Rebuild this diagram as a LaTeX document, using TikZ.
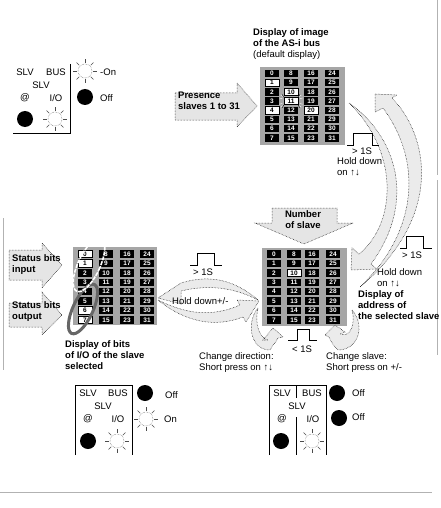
\documentclass[tikz,border=0pt]{standalone}
\usepackage{fontspec}
\setmainfont{Liberation Sans}
\makeatletter
\newcommand{\slavegrid}[8]{%
  % prefix, four column centres, first row y, row spacing, white cells
  \foreach \c/\xx in {0/#2,1/#3,2/#4,3/#5}{%
    \foreach \r in {0,...,7}{%
      \pgfmathtruncatemacro\n{\c*8+\r}%
      \edef\tmpcheck{\noexpand\in@{,\n,}{,#8,}}\tmpcheck
      \ifin@\tikzset{thiscell/.style={whitecell}}\else\tikzset{thiscell/.style={blackcell}}\fi
      \node[thiscell] (#1\n) at (\xx,{#6+\r*#7}) {\n};
    }%
  }%
}
\makeatother
\newcommand{\sunrays}[2]{%
  \foreach \a in {0,45,...,315}{\draw[ray] (#1)++(\a:#2+2)--++(\a:4);}%
}
\tikzset{
  whitecell/.style={draw=black,line width=.6pt,fill=white,text=black,minimum width=14pt,minimum height=7.4pt,inner sep=0pt,font=\fontsize{6.5}{7}\selectfont\bfseries},
  blackcell/.style={fill=black,text=white,minimum width=14pt,minimum height=7.4pt,inner sep=0pt,font=\fontsize{6.5}{7}\selectfont\bfseries},
  gridbg/.style={fill=black!35,draw=none},
  blockarrow/.style={fill=black!10,draw=black,densely dotted,line width=.5pt},
  swoosh/.style={fill=black!8,draw=black,densely dotted,line width=.5pt},
  pulse/.style={draw=black,line width=1pt},
  lbl/.style={inner sep=0pt,anchor=west,font=\fontsize{9.5}{11}\selectfont},
  ctr/.style={inner sep=0pt,anchor=center,font=\fontsize{9.5}{11}\selectfont},
  blbl/.style={inner sep=0pt,anchor=north west,align=left,font=\fontsize{9.5}{11}\selectfont\bfseries},
  ledoff/.style={circle,fill=black,minimum size=16pt,inner sep=0pt},
  ledon/.style={circle,draw=black!60,densely dotted,fill=white,line width=.5pt,minimum size=14pt,inner sep=0pt},
  ray/.style={draw=black!70,line width=.4pt},
  panel/.style={draw=black,line width=.8pt},
  frameline/.style={draw=black!30,line width=.8pt},
}
\begin{document}
\begin{tikzpicture}[x=1pt,y=-1pt]
\useasboundingbox (0,0) rectangle (440,508);
% page rules
\draw[frameline] (0,492)--(432,492);
\draw[frameline] (3,218)--(3,370);
\draw[frameline] (437,0)--(437,175);
\draw[frameline] (437,180)--(437,355);
% grids
\fill[gridbg] (260,67) rectangle (345,145);
\slavegrid{a}{272}{291}{311}{332}{73.5}{9.2}{1,4,10,11,20}
\fill[gridbg] (262,248) rectangle (347,326);
\slavegrid{b}{274}{294}{312}{333}{254}{9.4}{10}
\fill[gridbg] (73,247) rectangle (157,325);
\slavegrid{c}{85}{106}{127}{147}{254}{9.4}{0,1,6,7}
\foreach \a in {-150,-165,165,150,30,15,-15,-30}{\draw[white,line width=.4pt] (a11)++(\a:9)--++(\a:3);}
\foreach \p/\q in {a11.north west/-120,a11.north east/-60,a11.south west/120,a11.south east/60}{\draw[black,line width=.4pt] (\p)--++(\q:3);}
% block arrows
\draw[blockarrow] (175,93)--(237,93)--(237,83)--(257,106)--(237,127)--(237,120)--(175,120)--cycle;
\draw[blockarrow] (272,208)--(337,208)--(337,223)--(353,223)--(304,244)--(255,223)--(272,223)--cycle;
\draw[blockarrow] (9,250)--(42,250)--(42,243)--(62,265)--(42,288)--(42,280)--(9,280)--cycle;
\draw[blockarrow] (9,303)--(42,303)--(42,292)--(62,315)--(42,335)--(42,327)--(9,327)--cycle;
% large curved arrows
\draw[swoosh] (349,103) .. controls (395,135) and (418,200) .. (371,264) -- (377,269) -- (351,270) -- (352,248) -- (359,254) .. controls (398,222) and (398,150) .. (349,103) -- cycle;
\draw[swoosh] (375,94) -- (397,95) -- (392,98) .. controls (428,135) and (445,215) .. (360,287) .. controls (415,235) and (425,165) .. (383,108) -- (375,112) -- cycle;
% hold-down crescents
\draw[swoosh] (158,298) -- (181,283) .. controls (210,274) and (235,280) .. (258,300) .. controls (235,288) and (210,284) .. (181,291) -- (181,304) -- cycle;
\draw[swoosh] (158,300) .. controls (190,316) and (215,316) .. (240,305) -- (237,300) -- (259,301) -- (246,322) -- (243,317) .. controls (215,328) and (185,322) .. (158,300) -- cycle;
% small U-turn arrows
\draw[swoosh] (258,308) .. controls (246,322) and (250,350) .. (270,350) .. controls (272,346) and (276,342) .. (278,338) -- (283,337) -- (273,328) -- (263,340) -- (268,340) .. controls (260,338) and (254,325) .. (258,308) -- cycle;
\draw[swoosh] (352,310) .. controls (366,326) and (358,350) .. (338,350) .. controls (334,346) and (331,342) .. (329,337) -- (325,335) -- (335,325) -- (345,332) -- (340,334) .. controls (350,338) and (356,325) .. (352,310) -- cycle;
% selection ovals
\draw[draw=black!60,line width=3pt,rotate around={-25:(83,309)}] (83,309) ellipse (10pt and 27pt);
\draw[draw=white,line width=1.6pt,dashed,dash pattern=on 4pt off 1pt,rotate around={-25:(89,265)}] (89,265) ellipse (11pt and 29pt);
% pulses
\draw[pulse] (347,145)--(353,145)--(353,133)--(372,133)--(372,145)--(379,145);
\draw[pulse] (400,248)--(406,248)--(406,236)--(423,236)--(423,248)--(432,248);
\draw[pulse] (190,265)--(197,265)--(197,253)--(214,253)--(214,265)--(222,265);
\draw[pulse] (288,340)--(297,340)--(297,329)--(309,329)--(309,340)--(317,340);
% labels
\node[blbl] (ttl) at (253,28) {Display of image\\of the AS-i bus\\\normalfont\fontsize{9.5}{11}\selectfont(default display)};
\node[blbl] (pres) at (178,92) {Presence\\slaves 1 to 31};
\node[blbl,align=center,anchor=north] (num) at (303,210) {Number\\of slave};
\node[blbl] (sin) at (12,254) {Status bits\\input};
\node[blbl] (sout) at (12,301) {Status bits\\output};
\node[blbl] (dbit) at (65,340) {Display of bits\\of I/O of the slave\\selected};
\node[blbl] (dadr) at (358,290) {Display of\\address of\\the selected slave};
\node[ctr] (t1) at (362,151) {> 1S};
\node[lbl,anchor=north west,align=left] (h1) at (337,157) {Hold down\\on ↑↓};
\node[ctr] (t2) at (412,255) {> 1S};
\node[lbl,anchor=north west,align=left] (h2) at (377,268) {Hold down\\on ↑↓};
\node[ctr] (t3) at (203,272) {> 1S};
\node[lbl] (h3) at (172,301) {Hold down+/-};
\node[ctr] (t4) at (302,349) {< 1S};
\node[lbl,anchor=north west,align=left] (cd) at (199,352) {Change direction:\\Short press on ↑↓};
\node[lbl,anchor=north west,align=left] (cs) at (326,352) {Change slave:\\Short press on +/-};
% LED panel 1
\draw[panel] (70,64)--(70,133)--(13,133);
\node[ctr] (p1a) at (25,72) {SLV};
\node[ctr] (p1b) at (56,72) {BUS};
\node[ctr] (p1c) at (41,85) {SLV};
\node[ctr] (p1d) at (25,98) {@};
\node[ctr] (p1e) at (56,98) {I/O};
\node[ledoff] (p1f) at (25,119) {};
\node[ledon] (p1g) at (55,119) {};
\sunrays{p1g}{6}
\node[ledon] (p1h) at (85,71) {};
\sunrays{p1h}{6}
\node[lbl] (p1i) at (100,72) {-On};
\node[ledoff] (p1j) at (85,97) {};
\node[lbl] (p1k) at (100,98) {Off};
% LED panel 2
\draw[panel] (75,455)--(75,385)--(132,385)--(132,455);
\node[ctr] (p2a) at (88,393) {SLV};
\node[ctr] (p2b) at (118,393) {BUS};
\node[ctr] (p2c) at (103,406) {SLV};
\node[ctr] (p2d) at (88,419) {@};
\node[ctr] (p2e) at (118,419) {I/O};
\node[ledoff] (p2f) at (88,441) {};
\node[ledon] (p2g) at (117,441) {};
\sunrays{p2g}{6}
\node[ledoff] (p2h) at (145,393) {};
\node[lbl] (p2i) at (165,395) {Off};
\node[ledon] (p2j) at (146,419) {};
\sunrays{p2j}{6}
\node[lbl] (p2k) at (164,419) {On};
% LED panel 3
\draw[panel] (269,455)--(269,385)--(326,385)--(326,455);
\draw[panel] (296,385)--(296,398);
\draw[panel] (296,417)--(296,455);
\node[ctr] (p3a) at (282,393) {SLV};
\node[ctr] (p3b) at (312,393) {BUS};
\node[ctr] (p3c) at (297,406) {SLV};
\node[ctr] (p3d) at (282,419) {@};
\node[ctr] (p3e) at (313,419) {I/O};
\node[ledoff] (p3f) at (281,441) {};
\node[ledon] (p3g) at (312,441) {};
\sunrays{p3g}{6}
\node[ledoff] (p3h) at (337,393) {};
\node[lbl] (p3i) at (352,393) {Off};
\node[ledoff] (p3j) at (339,418) {};
\node[lbl] (p3k) at (352,417) {Off};
\end{tikzpicture}
\end{document}
